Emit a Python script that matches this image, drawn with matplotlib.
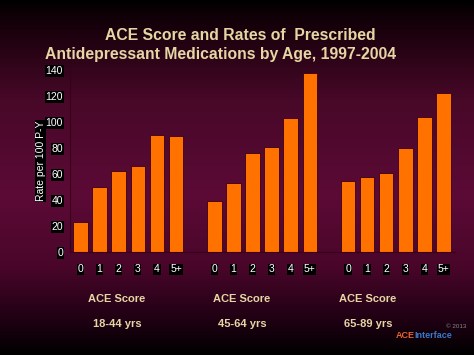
import numpy as np
import matplotlib
matplotlib.use("Agg")
import matplotlib.pyplot as plt
from matplotlib.colors import LinearSegmentedColormap

scores = ["0", "1", "2", "3", "4", "5+"]
age_groups = ["18-44 yrs", "45-64 yrs", "65-89 yrs"]
rates_18_44 = [23, 50, 62, 66, 90, 89]
rates_45_64 = [39, 53, 76, 81, 103, 138]
rates_65_89 = [55, 58, 61, 80, 104, 122]
yticks = [0, 20, 40, 60, 80, 100, 120, 140]

plt.rcParams["font.family"] = ["Liberation Sans", "DejaVu Sans"]

tan = "#e6d6a4"
bar_col = "#ff7200"

fig = plt.figure(figsize=(4.74, 3.55), dpi=100)

# background gradient: black at top, maroon in middle, black at bottom
bg = fig.add_axes([0, 0, 1, 1])
bg.set_axis_off()
cmap = LinearSegmentedColormap.from_list(
    "bg", [(0.0, "#000000"), (0.05, "#120008"), (0.28, "#480828"),
           (0.55, "#5c0a36"), (0.75, "#4a062a"), (0.92, "#1a0010"), (1.0, "#000000")])
grad = np.linspace(0, 1, 256).reshape(-1, 1)
bg.imshow(grad, aspect="auto", cmap=cmap, extent=[0, 1, 0, 1], origin="upper")
bg.set_xlim(0, 1)
bg.set_ylim(0, 1)

ax = fig.add_axes([70 / 474, 1 - 252 / 355, (455 - 70) / 474, (252 - 70) / 355])
ax.set_facecolor("none")

groups = [rates_18_44, rates_45_64, rates_65_89]
xpos = []
xlab = []
for g, vals in enumerate(groups):
    x = np.arange(len(vals)) + g * 7
    ax.bar(x, vals, width=0.76, color=bar_col, edgecolor="#3a0010", linewidth=0.6)
    xpos.extend(x)
    xlab.extend(scores)

ax.set_xlim(-0.55, 19.6)
ax.set_ylim(0, 140)
ax.set_yticks(yticks)
ax.set_xticks(xpos)
ax.set_xticklabels(xlab)
ax.tick_params(length=0, pad=5)
for lab in ax.get_xticklabels() + ax.get_yticklabels():
    lab.set_color("white")
    lab.set_fontsize(7.5)
    lab.set_bbox(dict(facecolor="black", edgecolor="none", pad=0.5))
ax.tick_params(axis="x", pad=9)
for s in ["top", "right"]:
    ax.spines[s].set_visible(False)
ax.spines["left"].set_color("#3a0018")
ax.spines["bottom"].set_color("#3a0018")

ax.set_ylabel("Rate per 100 P-Y", color="white", fontsize=7.5,
              bbox=dict(facecolor="black", edgecolor="none", pad=0.5), labelpad=0)

fig.text(240 / 474, 1 - 36 / 355, "ACE Score and Rates of  Prescribed",
         color=tan, fontsize=11.3, fontweight="bold", ha="center", va="center")
fig.text(45 / 474, 1 - 55 / 355, "Antidepressant Medications by Age, 1997-2004",
         color=tan, fontsize=11.3, fontweight="bold", ha="left", va="center")

for cx, age in zip([117, 242, 368], age_groups):
    fig.text(cx / 474, 1 - 299 / 355, "ACE Score", color=tan, fontsize=8,
             fontweight="bold", ha="center", va="center")
    fig.text(cx / 474, 1 - 324 / 355, age, color=tan, fontsize=8,
             fontweight="bold", ha="center", va="center")

fig.text(396 / 474, 1 - 335 / 355, "ACE", color="#e8632a", fontsize=6.5,
         fontweight="bold", ha="left", va="center")
fig.text(414 / 474, 1 - 335 / 355, "Interface", color="#3a78c8", fontsize=6.5,
         fontweight="bold", ha="left", va="center")
fig.text(446 / 474, 1 - 326 / 355, "\u00a9 2013", color="#888888", fontsize=4.5,
         ha="left", va="center")

fig.savefig("out.png", dpi=100)
